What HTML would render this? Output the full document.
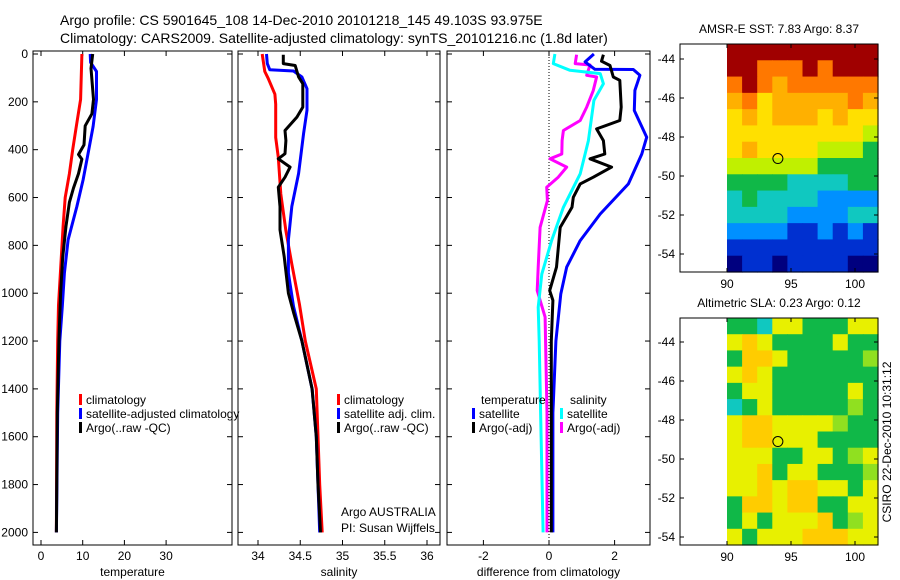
<!DOCTYPE html>
<html><head><meta charset="utf-8"><style>
html,body{margin:0;padding:0;background:#fff}
svg{display:block;font-family:"Liberation Sans",sans-serif}
</style></head><body>
<svg id="c" width="900" height="580" viewBox="0 0 900 580">
<text x="60" y="25" font-size="14">Argo profile: CS 5901645_108 14-Dec-2010 20101218_145 49.103S 93.975E</text>
<text x="60" y="43" font-size="14">Climatology: CARS2009. Satellite-adjusted climatology: synTS_20101216.nc (1.8d later)</text>
<g id="g"></g>
</svg>
<script>
// ---- data ----
const depthTicks=[0,200,400,600,800,1000,1200,1400,1600,1800,2000];
const tTicks=[0,10,20,30];
const sTicks=[34,34.5,35,35.5,36];
const sTickLabels=["34","34.5","35","35.5","36"];
const dTicks=[-2,0,2];
const tClimD=[0,190,300,400,500,600,720,900,1050,1200,1500,2000];
const tClimV=[9.8,9.5,8.5,7.6,6.8,5.8,5.3,4.7,4.2,4.0,3.8,3.7];
const tSatD=[0,35,73,190,303,415,526,637,777,916,1055,1200,1500,2000];
const tSatV=[11.8,11.9,13.3,13.3,12.5,11.3,10.1,8.6,6.5,5.6,5.1,4.5,4.0,3.7];
const tArgoD=[0,60,190,250,300,380,420,440,500,560,620,720,850,1000,1200,1500,2000];
const tArgoV=[12.4,12.0,12.6,12.2,10.6,10.3,9.0,9.8,9.0,7.8,6.8,6.0,5.2,4.7,4.3,3.9,3.7];
const sClimD=[0,73,101,168,210,349,432,585,739,878,1045,1200,1400,1600,1800,2000];
const sClimV=[34.05,34.08,34.12,34.20,34.21,34.21,34.24,34.27,34.33,34.40,34.49,34.56,34.69,34.71,34.73,34.76];
const sSatD=[0,40,66,71,96,145,235,332,499,638,777,916,1055,1200,1400,1600,1800,2000];
const sSatV=[34.10,34.11,34.14,34.42,34.52,34.58,34.58,34.54,34.48,34.40,34.36,34.36,34.42,34.52,34.64,34.69,34.71,34.73];
const sArgoD=[3,40,48,96,124,222,264,320,362,417,438,473,515,557,638,735,847,1000,1080,1200,1400,1600,1800,2000];
const sArgoV=[34.30,34.30,34.44,34.48,34.53,34.53,34.46,34.32,34.33,34.32,34.24,34.38,34.32,34.24,34.26,34.26,34.31,34.36,34.42,34.52,34.64,34.69,34.71,34.74];
const dTSatD=[0,33,64,65,89,152,236,348,418,543,669,780,891,1003,1200,1500,2000];
const dTSatV=[1.37,1.10,1.40,2.57,2.77,2.62,2.60,2.98,2.83,2.42,1.56,0.95,0.54,0.36,0.21,0.12,0.12];
const dTArgoD=[3,30,48,96,110,222,278,313,362,418,438,473,515,543,599,641,725,891,989,1030,1200,1600,2000];
const dTArgoV=[1.66,1.60,1.86,1.96,2.16,2.20,2.16,1.45,1.66,1.70,1.25,1.91,1.35,0.95,0.74,0.70,0.34,0.23,0.02,0.12,0.07,0.07,0.07];
const dSSatD=[0,40,68,82,124,194,362,501,641,780,920,1059,1200,1600,2000];
const dSSatV=[0.18,0.13,0.64,1.56,1.66,1.37,1.20,0.95,0.44,0.08,-0.22,-0.33,-0.30,-0.24,-0.18];
const dSArgoD=[3,40,46,89,96,152,222,278,320,362,418,438,473,515,557,613,725,891,989,1100,1500,2000];
const dSArgoV=[0.84,0.80,1.25,1.15,1.45,1.35,1.15,0.95,0.44,0.40,0.39,0.03,0.54,0.28,-0.07,-0.05,-0.27,-0.33,-0.36,-0.12,-0.06,-0.06];
const latTicks=[-44,-46,-48,-50,-52,-54];
const lonTicks=[90,95,100];
const sstGrid=["9999999999","9988898999","8987888888","7867777787","6767776766","6666666665","6766665554","5555554444","4444333344","3433332222","3333222233","2222112121","1111111111","0110111100"];
const slaGrid=["4436644466","6764444644","4776444445","6764444444","4664444464","3464444454","6776666544","6776664444","6664466456","6674664445","6676776646","4776774466","4646667456","6466677766"];
const palette=["#00007f","#0030d0","#0090ff","#10c8c0","#10b848","#c0f000","#ffe000","#ffb000","#ff7800","#a00000"];
const slaPalette=["#00007f","#0030d0","#0090ff","#10c8c0","#10b848","#90e020","#e8f000","#ffcc00","#ff9000","#a00000"];
const argoLon=93.975, argoLat=-49.103;
// ---- drawing ----
const NS="http://www.w3.org/2000/svg";const G=document.getElementById('g');
function el(t,a,p){const e=document.createElementNS(NS,t);for(const k in a)e.setAttribute(k,a[k]);(p||G).appendChild(e);return e;}
const yTop=51,yBot=545;
const yD=d=>54+d*0.2392;
const panels=[{x0:33,x1:232,f:v=>41+v*4.17,ticks:tTicks,labels:tTicks.map(String),name:"temperature"},
 {x0:238,x1:440,f:v=>258+(v-34)*84.5,ticks:sTicks,labels:sTickLabels,name:"salinity"},
 {x0:447,x1:650,f:v=>549+v*32.8,ticks:dTicks,labels:dTicks.map(String),name:"difference"}];
const axisTitles=["temperature","salinity","difference from climatology"];
panels.forEach((p,i)=>{
 const r=el('rect',{x:p.x0,y:yTop,width:p.x1-p.x0,height:yBot-yTop,fill:'none',stroke:'#000','stroke-width':1});
 
 
 p.ticks.forEach((v,j)=>{const x=p.f(v);
  el('line',{x1:x,x2:x,y1:yTop,y2:yTop+5,stroke:'#000'});el('line',{x1:x,x2:x,y1:yBot,y2:yBot-5,stroke:'#000'});
  const t=el('text',{x:x,y:yBot+15,'font-size':12,'text-anchor':'middle'});t.textContent=p.labels[j];
  
  });
 depthTicks.forEach(d=>{const y=yD(d);
  el('line',{x1:p.x0,x2:p.x0+5,y1:y,y2:y,stroke:'#000'});el('line',{x1:p.x1,x2:p.x1-5,y1:y,y2:y,stroke:'#000'});
  if(i==0){const t=el('text',{x:28,y:y+4,'font-size':12,'text-anchor':'end'});t.textContent=d;
   
   }});
 const at=el('text',{x:(p.x0+p.x1)/2,y:576,'font-size':12,'text-anchor':'middle'});at.textContent=axisTitles[i];
 
 
});
el('line',{x1:549,x2:549,y1:yTop,y2:yBot,stroke:'#000','stroke-dasharray':'1,2'});
function line(p,D,V,col,name){const pts=D.map((d,i)=>p.f(V[i]).toFixed(1)+','+yD(d).toFixed(1)).join(' ');
 const e=el('polyline',{points:pts,fill:'none',stroke:col,'stroke-width':3,'stroke-linejoin':'round'});
 
 }
line(panels[0],tClimD,tClimV,'#f00','temp-climatology-line');
line(panels[0],tSatD,tSatV,'#00f','temp-satellite-line');
line(panels[0],tArgoD,tArgoV,'#000','temp-argo-line');
line(panels[1],sClimD,sClimV,'#f00','sal-climatology-line');
line(panels[1],sSatD,sSatV,'#00f','sal-satellite-line');
line(panels[1],sArgoD,sArgoV,'#000','sal-argo-line');
line(panels[2],dSArgoD,dSArgoV,'#f0f','diff-sal-argo-line');
line(panels[2],dTSatD,dTSatV,'#00f','diff-temp-satellite-line');
line(panels[2],dTArgoD,dTArgoV,'#000','diff-temp-argo-line');
line(panels[2],dSSatD,dSSatV,'#0ff','diff-sal-satellite-line');
function leg(x,y,col,txt,name){if(col){el('rect',{x:x,y:y-10,width:3,height:11,fill:col});}
 const t=el('text',{x:x+7,y:y,'font-size':12});t.textContent=txt;
 
 }
leg(79,404,'#f00','climatology','legend-climatology');
leg(79,418,'#00f','satellite-adjusted climatology','legend-satellite');
leg(79,432,'#000','Argo(..raw -QC)','legend-argo');
leg(337,404,'#f00','climatology','legend2-climatology');
leg(337,418,'#00f','satellite adj. clim.','legend2-satellite');
leg(337,432,'#000','Argo(..raw -QC)','legend2-argo');
leg(474,404,null,'temperature','legend3-temperature-header');
leg(563,404,null,'salinity','legend3-salinity-header');
leg(472,418,'#00f','satellite','legend3-temp-satellite');
leg(472,432,'#000','Argo(-adj)','legend3-temp-argo');
leg(560,418,'#0ff','satellite','legend3-sal-satellite');
leg(560,432,'#f0f','Argo(-adj)','legend3-sal-argo');
leg(334,516,null,'Argo AUSTRALIA','argo-australia-label');
leg(334,532,null,'PI: Susan Wijffels','pi-label');
// maps
function map(y0,y1,grid,pal,title,name,latAt){
 const X0=680,X1=878,lx=v=>727+(v-90)*12.8;
 const ly=v=>latAt.y44+(-44-v)*latAt.k;
 const cw=(X1-727)/10,ch=(y1-y0)/grid.length;
 grid.forEach((row,r)=>{for(let c=0;c<row.length;c++){
  const e=el('rect',{x:(727+c*cw).toFixed(2),y:(y0+r*ch).toFixed(2),width:(cw+0.6).toFixed(2),height:(ch+0.6).toFixed(2),fill:pal[+row[c]]});
  
  }});
 const f=el('rect',{x:X0,y:y0,width:X1-X0,height:y1-y0,fill:'none',stroke:'#000'});
 
 
 latTicks.forEach(v=>{const y=ly(v);el('line',{x1:X0,x2:X0+4,y1:y,y2:y,stroke:'#000'});el('line',{x1:X1,x2:X1-4,y1:y,y2:y,stroke:'#000'});
  const t=el('text',{x:675,y:y+4,'font-size':12,'text-anchor':'end'});t.textContent=v;
  
  });
 lonTicks.forEach(v=>{const x=lx(v);el('line',{x1:x,x2:x,y1:y1,y2:y1-4,stroke:'#000'});el('line',{x1:x,x2:x,y1:y0,y2:y0+4,stroke:'#000'});
  const t=el('text',{x:x,y:y1+16,'font-size':12,'text-anchor':'middle'});t.textContent=v;
  
  });
 const c=el('circle',{cx:lx(argoLon),cy:ly(argoLat),r:5,fill:'none',stroke:'#000'});
 
 
 const t=el('text',{x:779,y:y0-11,'font-size':12,'text-anchor':'middle'});t.textContent=title;
 
 
}
map(44,272,sstGrid,palette,'AMSR-E SST: 7.83 Argo: 8.37','sst-map',{y44:59,k:19.5});
map(318,545,slaGrid,slaPalette,'Altimetric SLA: 0.23 Argo: 0.12','sla-map',{y44:342,k:19.5});
const ct=el('text',{x:0,y:0,'font-size':12,'text-anchor':'middle',transform:'translate(891,442) rotate(-90)'});
ct.textContent='CSIRO 22-Dec-2010 10:31:12';


</script>
</body></html>
